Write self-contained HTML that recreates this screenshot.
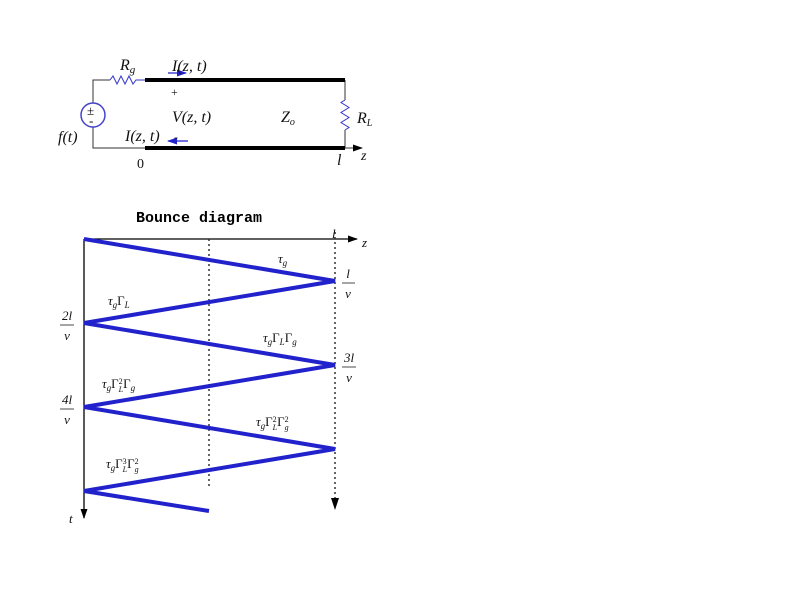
<!DOCTYPE html>
<html><head><style>body{margin:0;background:#fff}svg text{font-family:"Liberation Serif",serif;font-style:italic}.u{font-style:normal}</style></head>
<body><svg width="800" height="600" xmlns="http://www.w3.org/2000/svg">
<defs><marker id="a" markerUnits="userSpaceOnUse" markerWidth="10" markerHeight="10" refX="9" refY="5" orient="auto"><path d="M0,1.5L10,5L0,8.5z" fill="#000"/></marker>
<marker id="b" markerUnits="userSpaceOnUse" markerWidth="10" markerHeight="10" refX="9" refY="5" orient="auto"><path d="M0,1.5L10,5L0,8.5z" fill="#22c"/></marker></defs>
<!-- circuit -->
<g stroke="#333" fill="none" stroke-width="1">
<path d="M93,103V80H110"/><path d="M93,127V148H145"/>
<path d="M345,80V100M345,130V148"/>
<path d="M345,148H362" marker-end="url(#a)"/>
</g>
<path d="M110,80l3,-4 4,8 4,-8 4,8 4,-8 4,8 3,-4H145" stroke="#33c" fill="none"/>
<path d="M345,100l-4,2.5 8,5 -8,5 8,5 -8,5 8,5 -4,2.5" stroke="#33c" fill="none"/>
<circle cx="93" cy="115" r="12" stroke="#44c" fill="none" stroke-width="1.5"/>
<text x="87" y="115" font-size="13" class="u">±</text>
<text x="89" y="125" font-size="13" class="u">-</text>
<path d="M145,80H345M145,148H345" stroke="#000" stroke-width="4"/>
<path d="M168,73H186" stroke="#22c" stroke-width="1.3" marker-end="url(#b)"/>
<path d="M188,141H168" stroke="#22c" stroke-width="1.3" marker-end="url(#b)"/>
<g font-size="16" fill="#111">
<text x="120" y="70">R<tspan font-size="11" dy="3">g</tspan></text>
<text x="172" y="71">I(z, t)</text>
<text x="171" y="96" font-size="12" class="u">+</text>
<text x="172" y="122">V(z, t)</text>
<text x="281" y="122">Z<tspan font-size="10" dy="3">o</tspan></text>
<text x="357" y="123">R<tspan font-size="10" dy="3">L</tspan></text>
<text x="58" y="142">f(t)</text>
<text x="125" y="141">I(z, t)</text><text x="174" y="141" font-size="12" class="u">-</text>
<text x="137" y="168" class="u" font-size="14">0</text>
<text x="337" y="165">l</text><text x="361" y="160" font-size="14">z</text>
</g>
<!-- bounce -->
<text x="136" y="222" font-size="15" style="font-family:'Liberation Mono',monospace;font-style:normal;font-weight:bold">Bounce diagram</text>
<g stroke="#000" stroke-width="1.3" fill="none">
<path d="M84,239H357" marker-end="url(#a)"/>
<path d="M84,239V518" marker-end="url(#a)"/>
</g>
<g stroke="#333" stroke-width="1.5" stroke-dasharray="2,3" fill="none">
<path d="M209,239V488"/><path d="M335,232V500"/>
</g>
<path d="M331,498L335,510L339,498z" fill="#000"/>
<path d="M84,239L335,281L84,323L335,365L84,407L335,449L84,491L209,511" stroke="#22c" stroke-width="4" fill="none"/>
<g font-size="13" fill="#111">
<text x="332" y="238">l</text><text x="362" y="247">z</text>
<text x="69" y="523">t</text>
<text x="278" y="263">τ<tspan font-size="9" dy="3">g</tspan></text>
<text x="108" y="305">τ<tspan font-size="9" dy="3">g</tspan><tspan class="u" dy="-3">Γ</tspan><tspan font-size="9" dy="3">L</tspan></text>
<text x="263" y="342">τ<tspan font-size="9" dy="3">g</tspan><tspan class="u" dy="-3">Γ</tspan><tspan font-size="9" dy="3">L</tspan><tspan class="u" dy="-3">Γ</tspan><tspan font-size="9" dy="3">g</tspan></text>
<text x="102" y="388">τ<tspan font-size="9" dy="3">g</tspan><tspan class="u" dy="-3">Γ</tspan><tspan class="u" font-size="8" dy="-4">2</tspan><tspan font-size="8" dx="-4" dy="8">L</tspan><tspan class="u" dy="-4">Γ</tspan><tspan font-size="9" dy="3">g</tspan></text>
<text x="256" y="426">τ<tspan font-size="9" dy="3">g</tspan><tspan class="u" dy="-3">Γ</tspan><tspan class="u" font-size="8" dy="-4">2</tspan><tspan font-size="8" dx="-4" dy="8">L</tspan><tspan class="u" dy="-4">Γ</tspan><tspan class="u" font-size="8" dy="-4">2</tspan><tspan font-size="8" dx="-4" dy="8">g</tspan></text>
<text x="106" y="468">τ<tspan font-size="9" dy="3">g</tspan><tspan class="u" dy="-3">Γ</tspan><tspan class="u" font-size="8" dy="-4">3</tspan><tspan font-size="8" dx="-4" dy="8">L</tspan><tspan class="u" dy="-4">Γ</tspan><tspan class="u" font-size="8" dy="-4">2</tspan><tspan font-size="8" dx="-4" dy="8">g</tspan></text>
</g>
<g font-size="13" fill="#111" text-anchor="middle">
<text x="348" y="278">l</text><text x="348" y="298">v</text>
<text x="349" y="362">3l</text><text x="349" y="382">v</text>
<text x="67" y="320">2l</text><text x="67" y="340">v</text>
<text x="67" y="404">4l</text><text x="67" y="424">v</text>
</g>
<g stroke="#111" stroke-width="0.8"><path d="M342,283H355M342,367H356M60,325H74M60,409H74"/></g>
</svg></body></html>
